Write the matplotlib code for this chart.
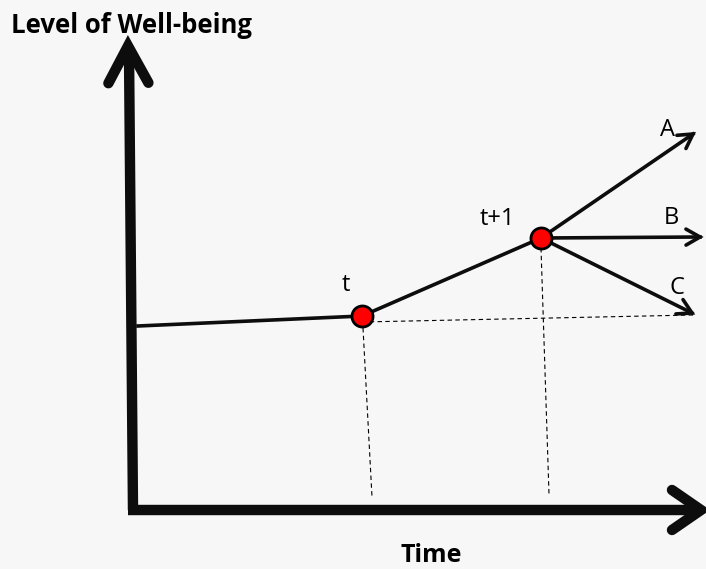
import matplotlib
matplotlib.use('Agg')
import matplotlib.pyplot as plt
import numpy as np

plt.rcParams['font.family'] = ['Open Sans', 'DejaVu Sans']

# Диаграмма в координатах картинки (пиксели, y вниз)
path_x = [138, 362, 541]          # уровень благополучия: начало, t, t+1
path_y = [326, 316, 238]
point_labels = ['t', 't+1']
branch_labels = ['A', 'B', 'C']
branch_end_x = [693, 700, 692]
branch_end_y = [134, 237, 313]


def chevron(ax, tip, tail, size, width, lw):
    tip = np.array(tip, float)
    tail = np.array(tail, float)
    d = (tip - tail) / np.linalg.norm(tip - tail)
    n = np.array([-d[1], d[0]])
    p1 = tip - d * size + n * width
    p2 = tip - d * size - n * width
    ax.plot([p1[0], tip[0], p2[0]], [p1[1], tip[1], p2[1]], color='#0d0d0d',
            lw=lw, solid_capstyle='round', solid_joinstyle='miter', zorder=4)


fig = plt.figure(figsize=(7.06, 5.69), dpi=100)
fig.patch.set_facecolor('#f7f7f7')
ax = fig.add_axes([0, 0, 1, 1])
ax.set_facecolor('#f7f7f7')
ax.set_xlim(0, 706)
ax.set_ylim(569, 0)
ax.axis('off')

# Оси
ax.plot([133, 129], [510, 52], color='#0d0d0d', lw=7.5, solid_capstyle='butt')
ax.plot([128, 698], [510, 510], color='#0d0d0d', lw=7.5, solid_capstyle='butt')
chevron(ax, (128, 46), (133, 510), 37, 20, 7.5)
chevron(ax, (701, 510), (128, 510), 29, 20, 7.5)

# Пунктирные проекции
ax.plot([362, 693], [322, 315], color='black', lw=0.8, ls=(0, (4, 3)))
ax.plot([363, 372], [328, 497], color='black', lw=0.8, ls=(0, (4, 3)))
ax.plot([541, 549], [248, 494], color='black', lw=0.8, ls=(0, (4, 3)))

# Траектория
ax.plot(path_x, path_y, color='#0d0d0d', lw=2.6, zorder=3)
for ex, ey in zip(branch_end_x, branch_end_y):
    ax.plot([path_x[-1], ex], [path_y[-1], ey], color='#0d0d0d', lw=2.6, zorder=3)
    chevron(ax, (ex, ey), (path_x[-1], path_y[-1]), 14, 8, 2.6)

ax.scatter(path_x[1:], path_y[1:], s=230, color='#ff0000', edgecolor='black',
           linewidth=2, zorder=5)

ax.text(346, 285, point_labels[0], fontsize=17, ha='center', va='center')
ax.text(497, 219, point_labels[1], fontsize=17, ha='center', va='center')
for lab, lx, ly in zip(branch_labels, [668, 671, 677], [130, 218, 288]):
    ax.text(lx, ly, lab, fontsize=17, ha='center', va='center')

ax.text(11, 25, 'Level of Well-being', fontsize=18.5, fontweight='bold',
        ha='left', va='center')
ax.text(431, 555, 'Time', fontsize=18, fontweight='bold', ha='center', va='center')

plt.savefig('out.png', dpi=100, facecolor=fig.get_facecolor())
